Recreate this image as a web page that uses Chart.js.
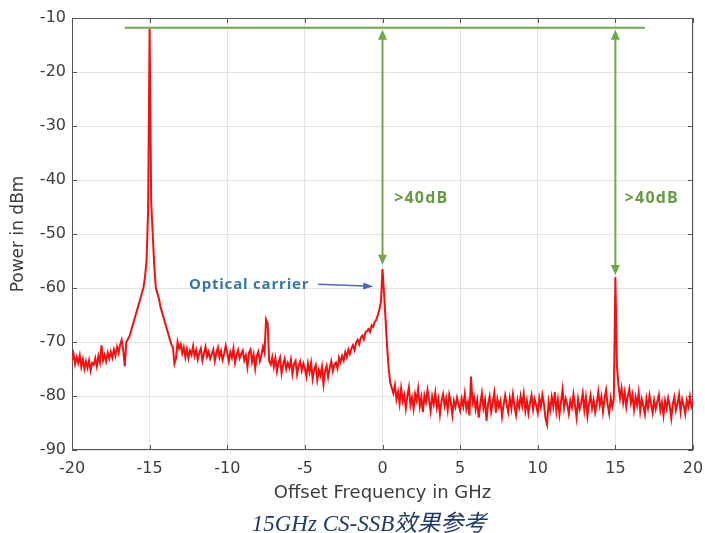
<!DOCTYPE html>
<html>
<head>
<meta charset="utf-8">
<script src="https://cdn.jsdelivr.net/npm/chart.js@4.4.1/dist/chart.umd.min.js"></script>
<style>
  body { margin: 0; background: #fff; }
  #wrap { position: relative; width: 705px; height: 533px; }
  #caption {
    position: absolute; left: 0; width: 738px; top: 504px;
    text-align: center; font: italic 23px "Liberation Serif", "Noto Sans CJK SC", serif;
    color: #1f3a68;
  }
</style>
</head>
<body>
<div id="wrap">
  <canvas id="myChart" width="705" height="505"></canvas>
  <div id="caption">15GHz CS-SSB效果参考</div>
</div>
<script>
const freqStart = -20;
const freqStep = 0.1;
const powerDbm = [
  -73.5,-72.2,-74.1,-72.8,-73.9,-72.5,-74.6,-73.2,-75.0,-73.6,
  -74.8,-73.4,-75.3,-73.9,-74.2,-73.0,-74.5,-72.6,-73.8,-70.6,
  -73.4,-72.4,-73.6,-72.0,-73.1,-71.8,-72.9,-71.4,-72.5,-70.9,
  -72.0,-70.5,-69.6,-71.5,-74.5,-70.0,-69.5,-69.0,-68.0,-67.0,
  -66.0,-65.0,-64.0,-63.0,-62.0,-61.0,-60.0,-58.0,-55.0,-46.0,
  -12.0,-44.0,-50.0,-56.0,-60.0,-61.0,-62.0,-63.5,-64.5,-65.5,
  -66.5,-67.5,-68.5,-69.5,-70.5,-71.0,-74.0,-73.0,-70.0,-71.2,
  -70.4,-72.1,-71.0,-72.8,-71.3,-73.0,-71.6,-72.4,-70.8,-72.6,
  -71.5,-73.2,-72.0,-71.2,-73.4,-72.1,-70.9,-72.7,-71.8,-73.1,
  -72.3,-71.4,-73.5,-72.0,-71.0,-72.8,-71.7,-73.3,-72.2,-70.7,
  -72.0,-73.6,-71.9,-72.9,-71.2,-73.8,-72.4,-71.5,-73.0,-72.2,
  -71.6,-73.4,-72.5,-74.6,-72.0,-71.4,-73.7,-72.3,-74.9,-72.6,
  -71.8,-73.5,-72.4,-70.9,-72.0,-65.8,-66.5,-73.5,-74.2,-72.8,
  -74.6,-73.0,-75.4,-73.8,-72.9,-75.8,-74.2,-73.1,-75.0,-73.9,
  -74.8,-73.3,-75.9,-74.1,-73.5,-76.0,-74.4,-73.6,-75.3,-74.0,
  -74.9,-76.4,-74.0,-75.6,-73.9,-76.8,-75.1,-74.3,-77.0,-75.2,
  -76.2,-74.6,-77.8,-75.3,-74.4,-76.5,-74.8,-73.6,-75.4,-74.2,
  -73.8,-74.9,-72.9,-73.8,-72.6,-73.4,-71.9,-72.8,-71.4,-72.2,
  -71.2,-70.6,-71.5,-70.1,-69.6,-70.4,-69.2,-68.8,-69.5,-68.2,
  -68.0,-67.6,-68.1,-66.9,-67.2,-66.3,-65.9,-65.0,-64.0,-62.5,
  -56.5,-61.0,-66.0,-71.0,-75.0,-77.5,-78.5,-79.5,-78.0,-80.6,
  -79.2,-81.4,-78.6,-80.9,-79.8,-82.3,-80.0,-78.4,-81.7,-80.3,
  -82.4,-79.6,-80.8,-78.7,-81.9,-80.2,-83.0,-79.9,-81.1,-78.9,
  -80.7,-82.8,-80.1,-81.5,-79.4,-82.1,-80.6,-83.4,-81.0,-79.7,
  -81.8,-80.4,-82.6,-79.8,-81.2,-83.5,-80.9,-82.0,-80.3,-81.6,
  -82.7,-80.5,-81.9,-79.6,-82.4,-81.1,-83.6,-76.4,-81.3,-80.2,
  -82.5,-80.8,-84.0,-81.4,-79.5,-82.2,-80.7,-84.6,-81.5,-80.1,
  -82.9,-81.2,-79.4,-83.1,-80.6,-82.0,-80.9,-83.8,-81.7,-79.9,
  -81.6,-83.0,-80.4,-82.3,-79.7,-81.9,-83.5,-80.8,-82.1,-80.0,
  -81.8,-79.6,-82.7,-80.9,-83.2,-81.3,-79.9,-82.5,-80.6,-81.7,
  -83.1,-80.4,-82.0,-79.8,-81.5,-84.2,-85.3,-81.0,-82.6,-80.2,
  -81.9,-79.3,-82.8,-80.7,-83.4,-81.1,-78.8,-82.2,-80.5,-81.6,
  -83.3,-80.9,-82.1,-79.7,-81.8,-84.0,-80.6,-82.4,-81.2,-79.5,
  -82.6,-80.3,-83.7,-81.5,-79.9,-82.3,-80.8,-83.0,-81.4,-79.2,
  -81.7,-80.1,-82.9,-80.5,-78.9,-81.6,-83.2,-80.4,-82.0,-80.6,
  -58.0,-74.5,-78.0,-80.4,-78.6,-81.2,-79.3,-82.0,-80.0,-78.7,
  -81.3,-79.8,-82.5,-80.2,-81.7,-79.4,-82.8,-80.6,-81.9,-83.4,
  -80.5,-82.2,-79.9,-81.6,-83.1,-80.8,-82.4,-81.0,-79.8,-82.7,
  -81.2,-83.6,-80.9,-82.3,-80.4,-81.8,-84.1,-81.5,-80.2,-82.6,
  -81.4,-79.8,-82.9,-80.6,-81.7,-83.3,-80.8,-82.0,-80.1,-81.9,
  -80.9
];
const xTicks = [-20, -15, -10, -5, 0, 5, 10, 15, 20];
const yTicks = [-90, -80, -70, -60, -50, -40, -30, -20, -10];

// annotation values
const refLevel = -11.8;
const refSpan = [-16.6, 16.9];
const arrowFreqs = [0, 15];
const arrowEnds = [-55.7, -57.6];
const arrowLabel = '>40dB';
const arrowLabelPos = [[0.75, -43.5], [15.6, -43.5]];
const carrierLabel = 'Optical carrier';
const carrierLabelPos = [-12.47, -59.4];
const carrierArrow = [[-4.15, -59.3], [-0.6, -59.7]];

const points = powerDbm.map((p, i) => ({ x: +(freqStart + i * freqStep).toFixed(1), y: p }));

const green = '#72a64c';

function arrowHead(ctx, x, y, ang, len, half) {
  ctx.beginPath();
  ctx.moveTo(x, y);
  ctx.lineTo(x - len * Math.cos(ang) + half * Math.sin(ang), y - len * Math.sin(ang) - half * Math.cos(ang));
  ctx.lineTo(x - len * Math.cos(ang) - half * Math.sin(ang), y - len * Math.sin(ang) + half * Math.cos(ang));
  ctx.closePath();
  ctx.fill();
}

const overlay = {
  id: 'overlay',
  beforeDatasetsDraw(chart) {
    const { ctx, chartArea: a, scales: { x, y } } = chart;
    ctx.save();
    ctx.strokeStyle = '#555';
    ctx.lineWidth = 1;
    ctx.strokeRect(a.left + 0.5, a.top + 0.5, a.width - 1, a.height - 1);
    ctx.beginPath();
    xTicks.forEach(v => {
      const px = Math.round(x.getPixelForValue(v)) + 0.5;
      ctx.moveTo(px, a.bottom); ctx.lineTo(px, a.bottom - 5);
      ctx.moveTo(px, a.top); ctx.lineTo(px, a.top + 5);
    });
    yTicks.forEach(v => {
      const py = Math.round(y.getPixelForValue(v)) + 0.5;
      ctx.moveTo(a.left, py); ctx.lineTo(a.left + 5, py);
      ctx.moveTo(a.right, py); ctx.lineTo(a.right - 5, py);
    });
    ctx.stroke();
    ctx.restore();
  },
  afterDatasetsDraw(chart) {
    const { ctx, scales: { x, y } } = chart;
    ctx.save();
    // reference level line
    ctx.strokeStyle = green;
    ctx.fillStyle = green;
    ctx.lineWidth = 2;
    const ry = y.getPixelForValue(refLevel);
    ctx.beginPath();
    ctx.moveTo(x.getPixelForValue(refSpan[0]), ry);
    ctx.lineTo(x.getPixelForValue(refSpan[1]), ry);
    ctx.stroke();
    // double arrows
    arrowFreqs.forEach((f, i) => {
      const px = x.getPixelForValue(f);
      const y1 = ry + 2;
      const y2 = y.getPixelForValue(arrowEnds[i]);
      ctx.beginPath();
      ctx.moveTo(px, y1 + 8);
      ctx.lineTo(px, y2 - 8);
      ctx.stroke();
      arrowHead(ctx, px, y1, -Math.PI / 2, 10, 4.5);
      arrowHead(ctx, px, y2, Math.PI / 2, 10, 4.5);
    });
    ctx.fillStyle = '#689a46';
    ctx.font = 'bold 16px "Open Sans", "DejaVu Sans", sans-serif';
    ctx.letterSpacing = '1.2px';
    ctx.textBaseline = 'middle';
    ctx.textAlign = 'left';
    arrowLabelPos.forEach(p => {
      ctx.fillText(arrowLabel, x.getPixelForValue(p[0]), y.getPixelForValue(p[1]));
    });
    // optical carrier note
    ctx.fillStyle = '#3576ab';
    ctx.font = 'bold 15px "Open Sans", "DejaVu Sans", sans-serif';
    ctx.letterSpacing = '0.8px';
    ctx.fillText(carrierLabel, x.getPixelForValue(carrierLabelPos[0]), y.getPixelForValue(carrierLabelPos[1]));
    ctx.letterSpacing = '0px';
    const ax1 = x.getPixelForValue(carrierArrow[0][0]), ay1 = y.getPixelForValue(carrierArrow[0][1]);
    const ax2 = x.getPixelForValue(carrierArrow[1][0]), ay2 = y.getPixelForValue(carrierArrow[1][1]);
    const ang = Math.atan2(ay2 - ay1, ax2 - ax1);
    ctx.strokeStyle = '#4a68b4';
    ctx.fillStyle = '#4a68b4';
    ctx.lineWidth = 1.5;
    ctx.beginPath();
    ctx.moveTo(ax1, ay1);
    ctx.lineTo(ax2 - 8 * Math.cos(ang), ay2 - 8 * Math.sin(ang));
    ctx.stroke();
    arrowHead(ctx, ax2, ay2, ang, 10, 3.5);
    ctx.restore();
  }
};

new Chart(document.getElementById('myChart'), {
  type: 'line',
  data: {
    datasets: [{
      label: 'Power',
      data: points,
      borderColor: '#f21010',
      borderWidth: 2,
      pointRadius: 0,
      tension: 0
    }]
  },
  options: {
    responsive: false,
    animation: false,
    layout: { padding: { top: 18, right: 12, left: 0, bottom: 0 } },
    plugins: { legend: { display: false }, tooltip: { enabled: false } },
    scales: {
      x: {
        type: 'linear',
        min: -20, max: 20,
        afterFit: s => { s.height = 55; s.paddingLeft = 0; s.paddingRight = 0; },
        afterBuildTicks: s => { s.ticks = xTicks.map(v => ({ value: v })); },
        grid: { color: '#e4e4e4', drawTicks: false },
        border: { display: false },
        ticks: { padding: 9, color: '#3c3c3c', font: { family: 'DejaVu Sans', size: 16 } },
        title: {
          display: true, text: 'Offset Frequency in GHz', color: '#3c3c3c',
          font: { family: 'DejaVu Sans', size: 18 }, padding: { top: 0, bottom: 1 }
        }
      },
      y: {
        min: -90, max: -10,
        afterFit: s => { s.width = 72; s.paddingTop = 0; s.paddingBottom = 0; },
        afterBuildTicks: s => { s.ticks = yTicks.map(v => ({ value: v })); },
        grid: { color: '#e4e4e4', drawTicks: false },
        border: { display: false },
        ticks: { padding: 6, color: '#3c3c3c', font: { family: 'DejaVu Sans', size: 16 } },
        title: {
          display: true, text: 'Power in dBm', color: '#3c3c3c',
          font: { family: 'DejaVu Sans', size: 17 }, padding: { top: 8, bottom: 0 }
        }
      }
    }
  },
  plugins: [overlay]
});
</script>
</body>
</html>
